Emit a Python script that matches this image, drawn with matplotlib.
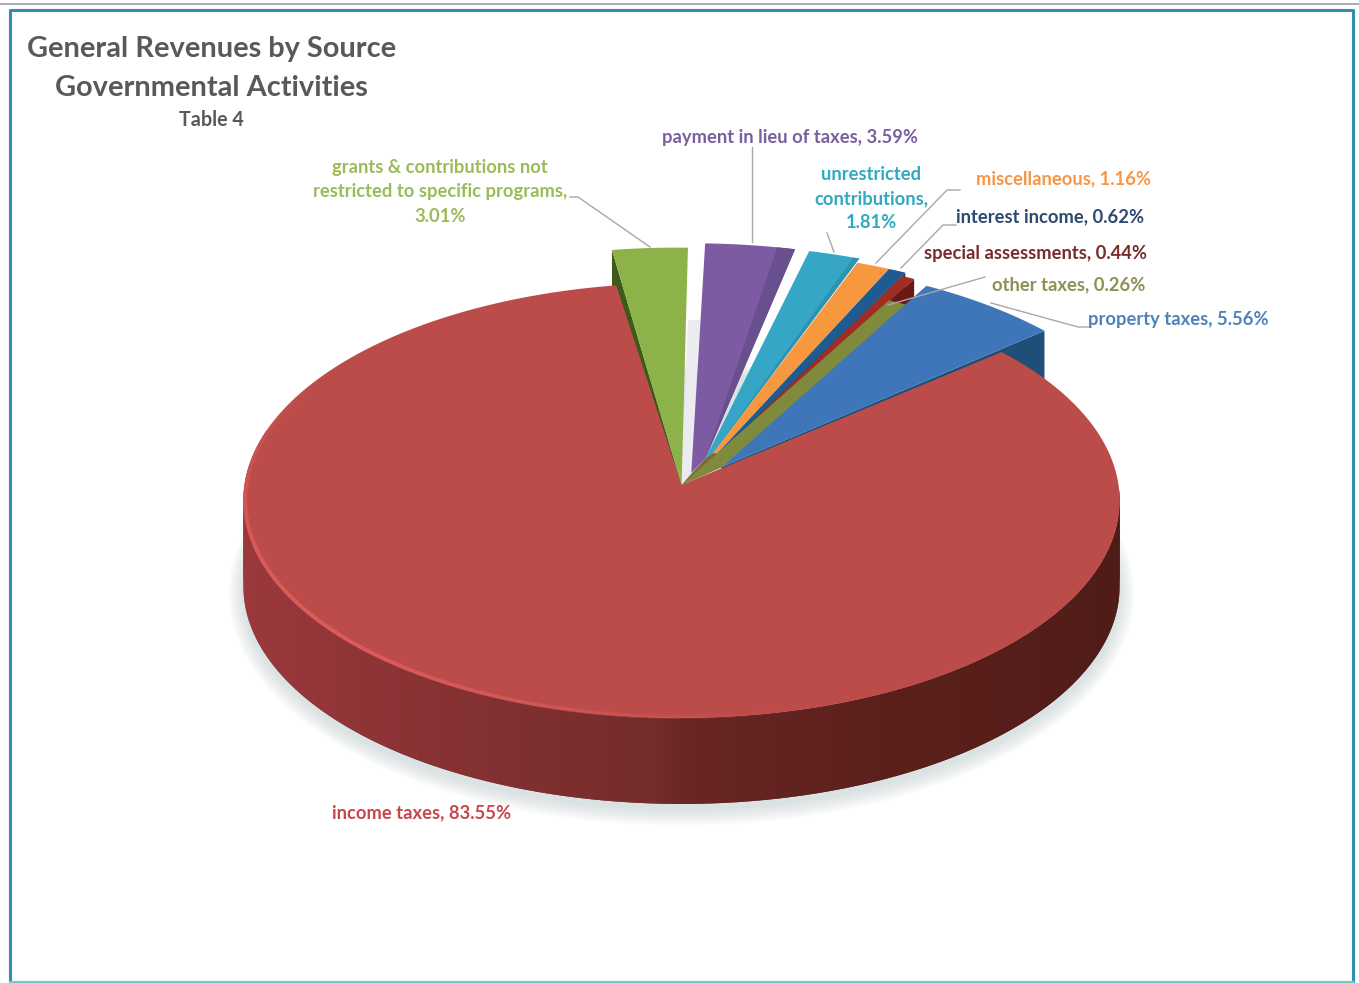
import numpy as np
import matplotlib
matplotlib.use("Agg")
import matplotlib.pyplot as plt
from matplotlib.collections import PolyCollection, LineCollection
from matplotlib.colors import to_rgb

# Revenue shares, in clockwise drawing order
sources = ["grants & contributions not\nrestricted to specific programs,\n", "payment in lieu of taxes, ",
           "unrestricted\ncontributions,\n", "miscellaneous, ", "interest income, ",
           "special assessments, ", "other taxes, ", "property taxes, ", "income taxes, "]
shares = [3.01, 3.59, 1.81, 1.16, 0.62, 0.44, 0.26, 5.56, 83.55]

top_colors = ["#8db249", "#7c5ba2", "#36a6c6", "#f7983f", "#1f5b90", "#a02c22", "#7f8a3c", "#3f76ba", "#bc4c4a"]
wall_colors = ["#3c5a18", "#6a4f8f", "#2f93b0", "#c87428", "#153f66", "#6a1a12", "#5a6028", "#1f4e79", "#7a2d2b"]
text_colors = ["#9bbb59", "#7a5f9e", "#31a9c0", "#f79646", "#2c4a70", "#772c2a", "#8f8f55", "#4f81bd", "#c8464c"]

# Pull of each wedge's rim and of its tip from the hub, plus tilt of the tip's pull
rim_pull = [0.19, 0.215, 0.213, 0.19, 0.19, 0.17, 0.04, 0.155, 0.0]
tip_pull = [0.0, 0.06, 0.14, 0.167, 0.17, 0.16, 0.0, 0.124, 0.0]
tip_turn = [0, 14, 6, 3, 3, 3, 3, 8, 0]
# Extra rim width (degrees) before and after each wedge's own span
widen_before = [0, 0, 0, 0, 0, 0, 0, 0, 0]
widen_after = [0, 0, 0.9, 0.6, 0.3, 0.3, 2.5, 0.8, 0]
# Side wall drop at the rim and at the tip (px), darker inner band (degrees)
wall_drop = [88, 0, 0, 0, 18, 24, 0, 88, 0]
wall_tip_drop = [88, 0, 0, 0, 0, 0, 0, 88, 0]
band_deg = [0, 2.6, 0.9, 0, 0, 0, 0, 0, 0]
# Wedges whose clockwise edge closes on the next wedge's tip
packed = [False, True, True, True, True, False, True, False, False]

START_ANGLE = -9.2
CX, CY, A, B, K = 681.5, 485.0, 216.4, 437.0, 0.071
DEPTH = 86.0

plt.rcParams["font.family"] = ["Lato", "DejaVu Sans"]
fig = plt.figure(figsize=(13.59, 9.83), dpi=100, facecolor="white")
ax = fig.add_axes([0, 0, 1, 1])
ax.set_xlim(0, 1359)
ax.set_ylim(983, 0)
ax.axis("off")


def project(x, y):
    """Perspective view of the tilted pie plane."""
    f = 1 + K * np.asarray(y, dtype=float)
    return CX + B * np.asarray(x, dtype=float) / f, CY - A * np.asarray(y, dtype=float) / f


def polar(deg, r=1.0):
    t = np.radians(deg)
    return r * np.sin(t), r * np.cos(t)


def rim(t0, t1, pull, mid, n=60):
    ts = np.linspace(t0, t1, n)
    ox, oy = polar(mid, pull)
    x, y = polar(ts)
    return project(x + ox, y + oy)


edges = START_ANGLE + np.concatenate([[0], np.cumsum(shares)]) * 3.6

# Frame
ax.plot([0, 1359], [4, 4], color="#a3a7ae", lw=1.3, zorder=1)
ax.plot([9.5, 9.5, 1352.5, 1352.5], [983, 9.5, 9.5, 983], color="#2f8fb0", lw=2.2, zorder=1)
ax.plot([9.5, 1352.5], [982, 982], color="#7fc4c8", lw=1.6, zorder=1)

# Soft shadow under the disc
sx, sy = polar(np.linspace(0, 360, 240))
px, py = project(sx, sy)
for grow in np.linspace(15, 0, 12):
    qx = CX + (px - CX) * (1 + grow / 438)
    qy = CY + DEPTH + 6 + (py - CY) * (1 + grow / 220)
    ax.fill(qx, qy, color="#7f9ca0", alpha=0.024, lw=0, zorder=2)

# Pale shade in the gap beside the purple wedge
tips = []
for i in range(8):
    mid = (edges[i] + edges[i + 1]) / 2
    tips.append(project(*polar(mid + tip_turn[i], tip_pull[i])))
ax.fill([688, 700, tips[1][0], tips[0][0]], [320, 320, tips[1][1], tips[0][1]],
        color="#ececf0", lw=0, zorder=2)

# Brown hub tying the small wedges' tips together
hub = [(CX, CY)] + [tips[i] for i in (2, 3, 4, 5)] + [tips[7]]
ax.fill([p[0] for p in hub], [p[1] for p in hub], color="#7d6a35", lw=0, zorder=3)

# Small wedges, back to front
z = 4
for i in range(8):
    t0, t1 = edges[i] - widen_before[i], edges[i + 1] + widen_after[i]
    mid = (edges[i] + edges[i + 1]) / 2
    tx, ty = tips[i]
    ex, ey = tips[i + 1] if packed[i] else tips[i]
    ax_, ay_ = rim(t0, t1, rim_pull[i], mid)
    side = 0 if mid < 0 else -1
    if wall_drop[i]:
        d, dt = wall_drop[i], wall_tip_drop[i]
        ax.fill([tx, ax_[side], ax_[side], tx], [ty, ay_[side], ay_[side] + d, ty + dt],
                color=wall_colors[i], lw=0, zorder=z)
    ax.fill(np.r_[tx, ax_, ex], np.r_[ty, ay_, ey], color=top_colors[i], lw=0, zorder=z + 0.5)
    if band_deg[i]:
        bx, by = rim(t1 - band_deg[i], t1, rim_pull[i], mid, 8)
        ax.fill(np.r_[ex, bx], np.r_[ey, by], color=wall_colors[i], lw=0, zorder=z + 0.6)
    z += 1

# Income wedge: outer wall first, shaded around the front
t0, t1 = edges[8], edges[9]
ts = np.linspace(90, 285, 200)
wx, wy = project(*polar(ts))
stops_t = [90, 150, 178, 182, 230, 285]
stops_c = np.array([to_rgb(c) for c in ["#4c1b17", "#5a1f1b", "#682624", "#752c2a", "#93363a", "#a33c3a"]])
polys, cols = [], []
for j in range(len(ts) - 2, -1, -1):
    k = min(j + 2, len(ts) - 1)
    polys.append([(wx[j], wy[j]), (wx[k], wy[k]), (wx[k], wy[k] + DEPTH), (wx[j], wy[j] + DEPTH)])
    cols.append([np.interp(ts[j], stops_t, stops_c[:, c]) for c in range(3)])
ax.add_collection(PolyCollection(polys, facecolors=cols, edgecolors="none", zorder=20))

rx, ry = rim(t0, t1, 0, t0, 300)
ax.fill(np.r_[CX, rx], np.r_[CY, ry], color=top_colors[8], lw=0, zorder=21)

# Light bevel along the near rim
bt = np.linspace(165, 300, 140)
bx, by = project(*polar(bt, 0.996))
segs = [[(bx[j], by[j]), (bx[j + 1], by[j + 1])] for j in range(len(bt) - 1)]
strength = np.sin(np.radians((bt[:-1] - 165) / 135 * 180)) ** 1.2 * 0.95
ax.add_collection(LineCollection(segs, colors=[(0.88, 0.36, 0.36, s) for s in strength], linewidths=2.8, zorder=22))

# Leader lines
leaders = [
    ([570, 578, 650], [197, 197, 247]),
    ([752, 752], [147, 242]),
    ([827, 834], [233, 252]),
    ([876, 947, 960], [263, 190, 190]),
    ([901, 943, 956], [268, 225, 225]),
    ([888, 985], [305, 277]),
    ([991, 1078, 1089], [303, 327, 327]),
]
for lx, ly in leaders:
    ax.plot(lx, ly, color="#a8a8a8", lw=1.0, zorder=30)

# Data labels
label_pos = [(440, 192), (790, 137), (871, 199), (1064, 179), (1050.5, 217),
             (1036, 254), (1068.5, 285), (1178.5, 319), (422, 813)]
for name, val, col, (lx, ly) in zip(sources, shares, text_colors, label_pos):
    ax.text(lx, ly, f"{name}{val:.2f}%", color=col, fontsize=13.2, fontweight="bold",
            ha="center", va="center", linespacing=1.5, zorder=31)

# Title block
ax.text(211.5, 49, "General Revenues by Source", color="#595959", fontsize=20.9, fontweight="bold", ha="center", va="center")
ax.text(211.5, 88, "Governmental Activities", color="#595959", fontsize=20.9, fontweight="bold", ha="center", va="center")
ax.text(211.5, 120, "Table 4", color="#595959", fontsize=14.2, fontweight="bold", ha="center", va="center")

fig.savefig("out.png", dpi=100, facecolor="white")
